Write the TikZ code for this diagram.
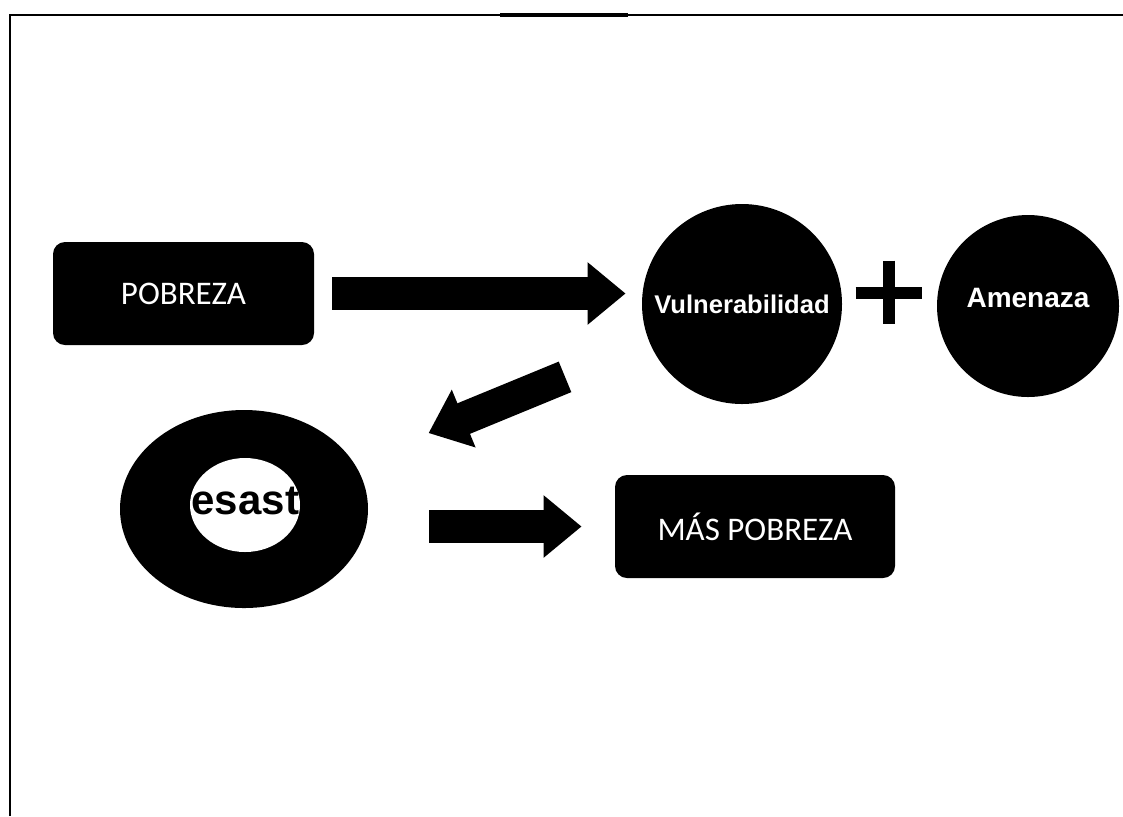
\documentclass[tikz,border=0pt]{standalone}
\usepackage{fontspec}
\usepackage{tikz}
\usetikzlibrary{positioning}
\usetikzlibrary{shapes.geometric}
\usetikzlibrary{arrows.meta}
\newfontfamily\boxfont{Carlito}
\newfontfamily\roundfont{Liberation Sans}

\tikzset{
  darkbox/.style={rectangle, rounded corners=6pt, fill=black, text=white, inner sep=0pt,
    minimum height=51.5pt, font=\boxfont\fontsize{16.5}{19}\selectfont},
  darkround/.style={circle, fill=black, text=white, inner sep=0pt},
  blockarrow/.style={line width=16.5pt, -{Triangle[length=19pt,width=30pt]}},
  plusbar/.style={line width=6pt},
}

\begin{document}
\begin{tikzpicture}[x=0.5pt, y=-0.5pt]
\useasboundingbox (0,0) rectangle (1123,816);
\draw[line width=1.4pt] (10,816) -- (10,15) -- (1123,15);
\draw[line width=2.2pt] (500,15) -- (628,15);

\node[darkbox, minimum width=130.5pt] (pobreza) at (183.5,293.5) {POBREZA};
\node[darkround, minimum size=100pt, font=\roundfont\bfseries\fontsize{12.8}{15}\selectfont] (vuln) at (742,304) {Vulnerabilidad};
\node[minimum width=33pt, minimum height=31.5pt, inner sep=0pt] (plus) at (889,292.5) {};
\draw[plusbar] (plus.west) -- (plus.east);
\draw[plusbar] (plus.north) -- (plus.south);
\node[darkround, minimum size=91pt, text depth=8.5pt, font=\roundfont\bfseries\fontsize{14}{16}\selectfont] (amenaza) at (1028,306) {Amenaza};

\node[ellipse, fill=black, minimum width=124pt, minimum height=99pt, inner sep=0pt] (desastre) at (244,509) {};
\node[ellipse, fill=white, minimum width=55pt, minimum height=47pt, inner sep=0pt] (hole) at (245,505) {};
\node[inner sep=0pt, font=\roundfont\bfseries\fontsize{21}{24}\selectfont] (desastretxt) at (250,500) {Desastre};

\node[darkbox, minimum width=140pt] (mas) at (755,526.5) {MÁS POBREZA};

\draw[blockarrow] ([xshift=9pt]pobreza.east) -- ([xshift=-8pt]pobreza.east -| vuln.west);
\draw[blockarrow, shorten <=45.5pt, shorten >=40pt] (vuln) -- (desastre);
\draw[blockarrow] ([xshift=30.5pt]desastre.east |- mas.west) -- ([xshift=-16.5pt]mas.west);
\end{tikzpicture}
\end{document}
